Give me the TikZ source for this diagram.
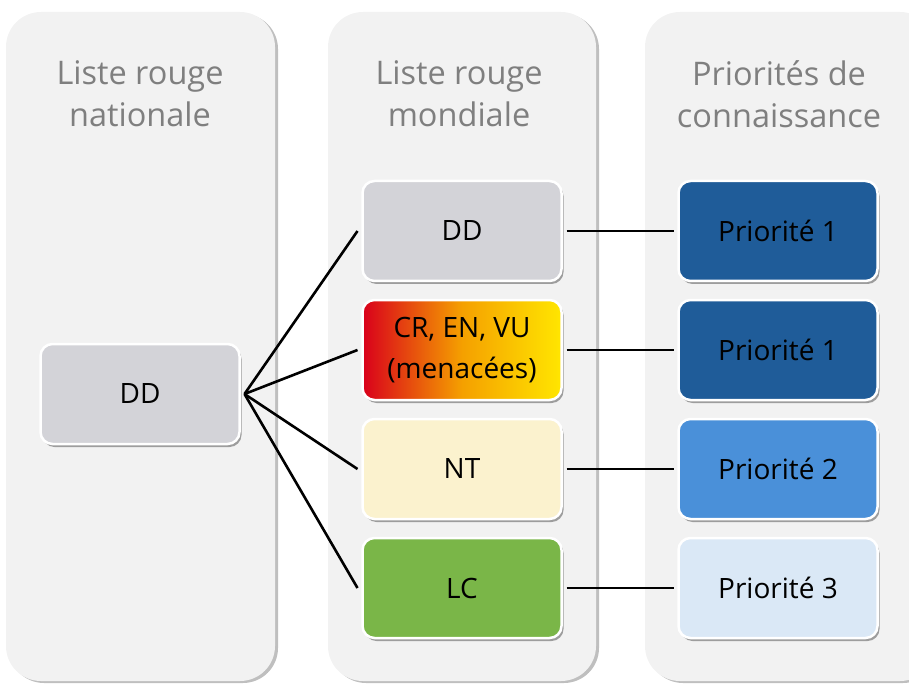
\documentclass[tikz,border=0pt]{standalone}
\usepackage{fontspec}
\setmainfont{Open Sans}
\usetikzlibrary{shadows}

\definecolor{colbg}{HTML}{F2F2F2}
\definecolor{titlegray}{HTML}{7F7F7F}
\definecolor{ddgray}{HTML}{D3D3D8}
\definecolor{ntcream}{HTML}{FBF2CE}
\definecolor{lcgreen}{HTML}{7AB648}
\definecolor{prioA}{HTML}{1F5C99}
\definecolor{prioB}{HTML}{4A90D9}
\definecolor{prioC}{HTML}{DAE8F6}
\definecolor{crred}{HTML}{D9001B}
\definecolor{crorange}{HTML}{F5A000}
\definecolor{cryellow}{HTML}{FFE600}

\tikzset{
  column/.style={fill=colbg, rounded corners=35pt,
    drop shadow={shadow xshift=3pt, shadow yshift=-2pt, opacity=.25, fill=black}},
  coltitle/.style={text=titlegray, align=center, font=\fontsize{32.5}{42}\selectfont},
  catbox/.style={draw=white, line width=2.5pt, rounded corners=12pt,
    minimum width=199pt, minimum height=100pt, align=center, outer sep=5pt,
    font=\fontsize{28}{41}\selectfont,
    drop shadow={shadow xshift=2pt, shadow yshift=-3pt, opacity=.35, fill=black}},
  link/.style={line width=2.6pt, black}
}

\begin{document}
\begin{tikzpicture}[x=1pt,y=-1pt]
\useasboundingbox (0,0) rectangle (909,684);
% fonds des trois colonnes
\fill[column] (6,12) rectangle (275,681);
\fill[column] (328,12) rectangle (596,681);
\fill[column] (645,12) rectangle (935,681);

\node[coltitle] (tnat) at (140,94) {Liste rouge\\nationale};
\node[coltitle] (tmon) at (459,94) {Liste rouge\\mondiale};
\node[coltitle] (tpri) at (779,94) {Priorités de\\connaissance};

% liste nationale
\node[catbox, fill=ddgray] (natdd) at (140,394) {DD};

% liste mondiale
\node[catbox, fill=ddgray] (mdd) at (462,231) {DD};
\node[catbox, left color=crred, right color=cryellow, middle color=crorange] (mcr) at (462,350) {CR, EN, VU\\(menacées)};
\node[catbox, fill=ntcream] (mnt) at (462,469) {NT};
\node[catbox, fill=lcgreen] (mlc) at (462,588) {LC};

% priorites
\node[catbox, fill=prioA] (pa) at (778,231) {Priorité 1};
\node[catbox, fill=prioA] (pb) at (778,350) {Priorité 1};
\node[catbox, fill=prioB] (pc) at (778,469) {Priorité 2};
\node[catbox, fill=prioC] (pd) at (778,588) {Priorité 3};

\foreach \m in {mdd,mcr,mnt,mlc}
  \draw[link] (natdd.east) -- (\m.west);
\foreach \m/\p in {mdd/pa,mcr/pb,mnt/pc,mlc/pd}
  \draw[link] (\m.east) -- (\p.west);
\end{tikzpicture}
\end{document}
